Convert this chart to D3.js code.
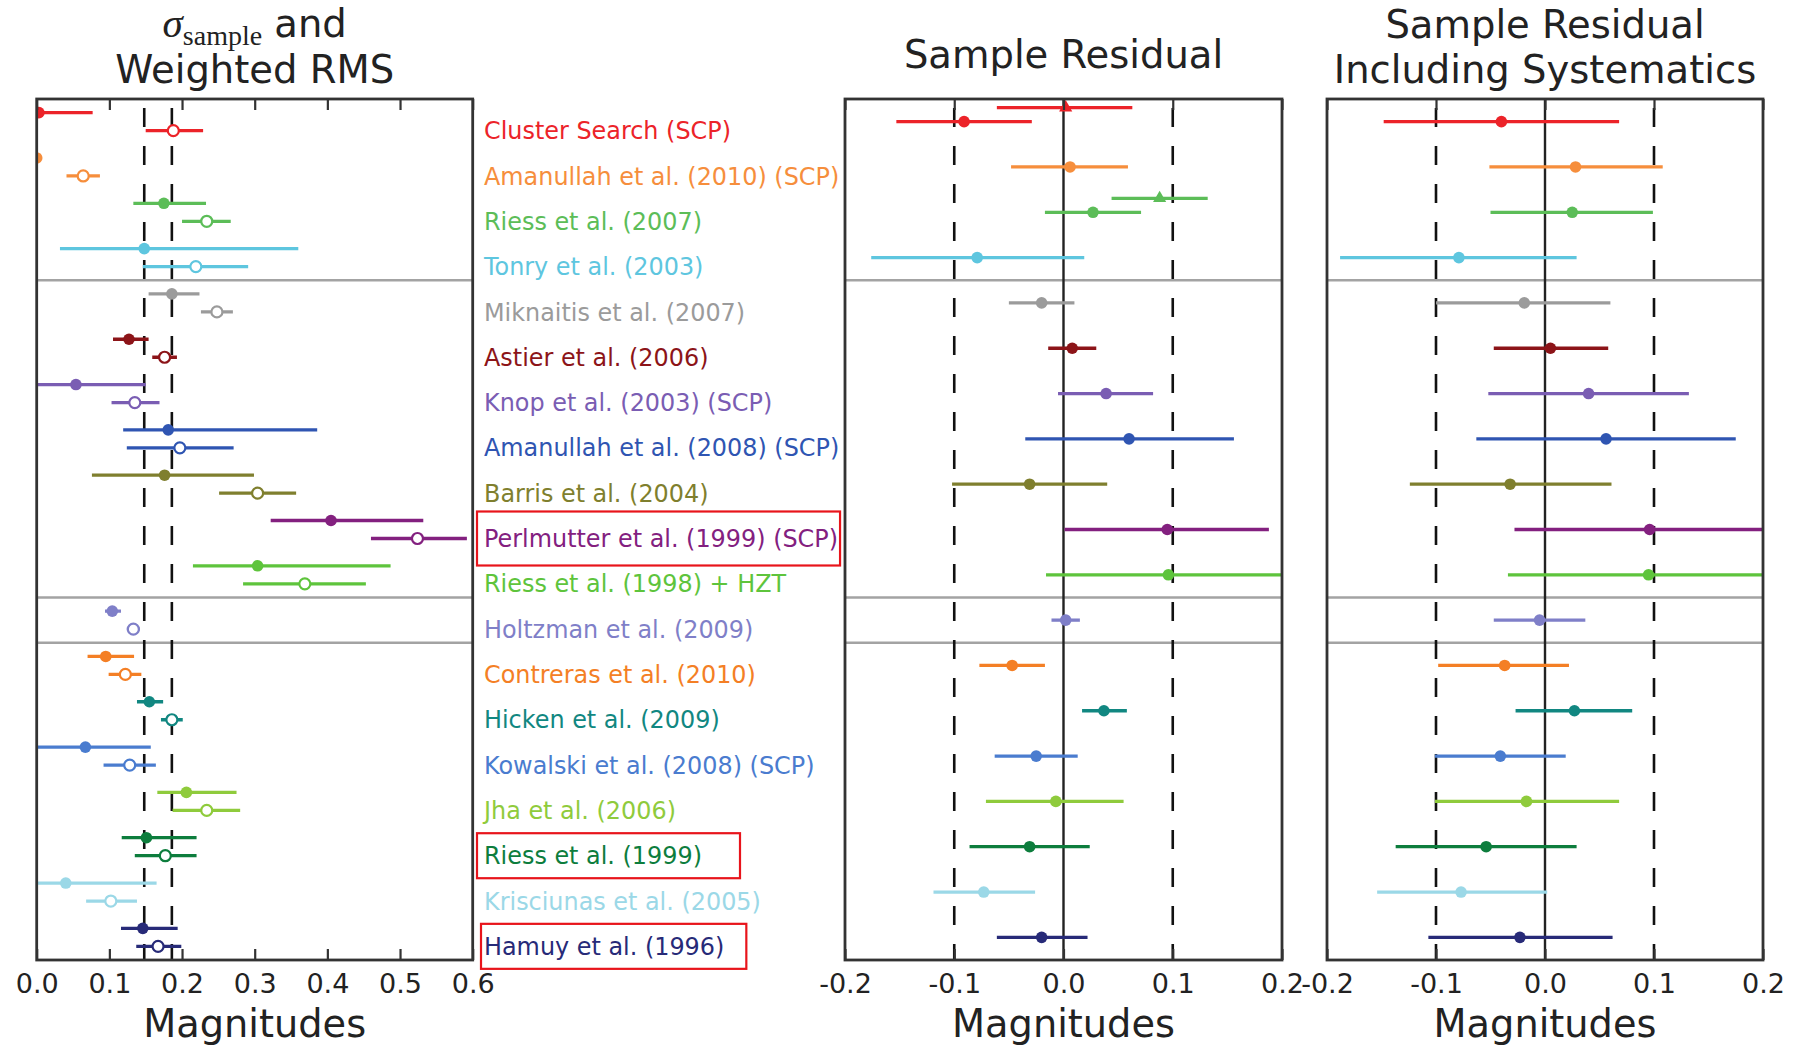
<!DOCTYPE html>
<html><head><meta charset="utf-8">
<script src="https://cdn.jsdelivr.net/npm/d3@7"></script>
<style>body{margin:0;background:#fff} svg{display:block} text{font-family:"DejaVu Sans",sans-serif}</style>
</head><body><svg id="c" width="1805" height="1045"></svg>
<script>
// ---------- data ----------
const labels = ["Cluster Search (SCP)","Amanullah et al. (2010) (SCP)","Riess et al. (2007)","Tonry et al. (2003)",
  "Miknaitis et al. (2007)","Astier et al. (2006)","Knop et al. (2003) (SCP)","Amanullah et al. (2008) (SCP)",
  "Barris et al. (2004)","Perlmutter et al. (1999) (SCP)","Riess et al. (1998) + HZT","Holtzman et al. (2009)",
  "Contreras et al. (2010)","Hicken et al. (2009)","Kowalski et al. (2008) (SCP)","Jha et al. (2006)",
  "Riess et al. (1999)","Krisciunas et al. (2005)","Hamuy et al. (1996)"];
const colors = ["#ec2329","#f68e3c","#5cbd58","#5ec6df","#9b9b9b","#8c1418","#7a5db3","#2f55b2",
  "#7f7f2e","#83207f","#5ec43c","#7f7fc8","#f47f25","#118781","#4a7ccf","#8fcb3c","#0d7d3d","#9bd8e7","#272a78"];
// left panel: sigma_sample (filled) and weighted RMS (open)
const sigmaVal = [0.003,0.0,0.175,0.148,0.186,0.127,0.054,0.181,0.176,0.405,0.304,0.104,0.095,0.155,0.067,0.206,0.151,0.040,0.146];
const sigmaLo  = [0.0,0.0,0.133,0.032,0.154,0.105,0.0,0.119,0.076,0.322,0.215,0.094,0.070,0.138,0.0,0.166,0.117,0.0,0.116];
const sigmaHi  = [0.077,0.0,0.233,0.360,0.224,0.154,0.150,0.386,0.299,0.532,0.487,0.116,0.134,0.174,0.157,0.275,0.220,0.165,0.194];
const rmsVal = [0.188,0.064,0.234,0.219,0.248,0.176,0.135,0.197,0.304,0.524,0.369,0.133,0.122,0.186,0.128,0.234,0.177,0.102,0.167];
const rmsLo  = [0.150,0.041,0.200,0.146,0.226,0.159,0.103,0.124,0.251,0.460,0.284,0.124,0.099,0.171,0.092,0.187,0.135,0.068,0.137];
const rmsHi  = [0.229,0.087,0.267,0.291,0.270,0.193,0.169,0.271,0.357,0.592,0.453,0.142,0.144,0.201,0.164,0.280,0.220,0.138,0.199];
const leftRefLines = [0.148, 0.186];
// middle panel: sample residual
const residVal = [-0.091,0.006,0.027,-0.079,-0.020,0.008,0.039,0.060,-0.031,0.095,0.096,0.002,-0.047,0.037,-0.025,-0.007,-0.031,-0.073,-0.020];
const residLo  = [-0.153,-0.048,-0.017,-0.176,-0.050,-0.014,-0.005,-0.035,-0.102,0.001,-0.016,-0.011,-0.077,0.017,-0.063,-0.071,-0.086,-0.119,-0.061];
const residHi  = [-0.029,0.059,0.071,0.019,0.010,0.030,0.082,0.156,0.040,0.188,0.215,0.015,-0.017,0.058,0.013,0.055,0.024,-0.026,0.022];
// alternative (triangle) points in middle panel
const altRow = [0, 2];
const altVal = [0.002, 0.088];
const altLo  = [-0.061, 0.044];
const altHi  = [0.063, 0.132];
// right panel: residual including systematics
const sysVal = [-0.040,0.028,0.025,-0.079,-0.019,0.005,0.040,0.056,-0.032,0.096,0.095,-0.005,-0.037,0.027,-0.041,-0.017,-0.054,-0.077,-0.023];
const sysLo  = [-0.148,-0.051,-0.050,-0.188,-0.100,-0.047,-0.052,-0.063,-0.124,-0.028,-0.034,-0.047,-0.098,-0.027,-0.101,-0.101,-0.137,-0.154,-0.107];
const sysHi  = [0.068,0.108,0.099,0.029,0.060,0.058,0.132,0.175,0.061,0.230,0.230,0.037,0.022,0.080,0.019,0.068,0.029,0.002,0.062];
const residRefLines = [-0.1, 0.1];
const groupBreaks = [4, 11, 12];
const leftTicks = [0.0,0.1,0.2,0.3,0.4,0.5,0.6];
const residTicks = [-0.2,-0.1,0.0,0.1,0.2];
const xLabel = "Magnitudes";
const highlightRows = [9, 16, 18];

// ---------- layout ----------
const svg = d3.select("#c");
const yTop = 99, yBot = 960;
const rows = d3.range(labels.length);
const y = d3.scaleBand().domain(rows).range([yTop, yBot]).padding(0);
const yc = i => y(i) + y.bandwidth()/2;

const panels = [
  {id:"L", x: d3.scaleLinear().domain([0,0.6]).range([36.7,472.7]), ticks: leftTicks},
  {id:"M", x: d3.scaleLinear().domain([-0.2,0.2]).range([845,1282]), ticks: residTicks},
  {id:"R", x: d3.scaleLinear().domain([-0.2,0.2]).range([1327,1763]), ticks: residTicks}
];
const defs = svg.append("defs");
panels.forEach(p => {
  const [a,b] = p.x.range();
  defs.append("clipPath").attr("id","clip"+p.id).append("rect")
    .attr("x",a).attr("y",yTop).attr("width",b-a).attr("height",yBot-yTop);
  p.g = svg.append("g").attr("clip-path",`url(#clip${p.id})`);
});

function hline(p){
  const [a,b] = p.x.range();
  p.g.selectAll("line.sep").data(groupBreaks).join("line").attr("class","sep")
    .attr("x1",a).attr("x2",b).attr("y1",d=>y(d)).attr("y2",d=>y(d))
    .attr("stroke","#a3a3a3").attr("stroke-width",2.6);
}
function vdash(p, vals){
  p.g.selectAll("line.ref").data(vals).join("line").attr("class","ref")
    .attr("x1",d=>p.x(d)).attr("x2",d=>p.x(d)).attr("y1",yTop).attr("y2",yBot)
    .attr("stroke","#111").attr("stroke-width",2.6).attr("stroke-dasharray","19,19").attr("stroke-dashoffset",29);
}
function zero(p){
  p.g.append("line").attr("x1",p.x(0)).attr("x2",p.x(0)).attr("y1",yTop).attr("y2",yBot)
    .attr("stroke","#222").attr("stroke-width",2.4);
}
function bars(p, idx, val, lo, hi, dy, kind){
  const g = p.g.append("g");
  g.selectAll("line").data(idx).join("line")
    .attr("x1",(d,k)=>p.x(lo[k])).attr("x2",(d,k)=>p.x(hi[k]))
    .attr("y1",d=>yc(d)+dy).attr("y2",d=>yc(d)+dy)
    .attr("stroke",d=>colors[d]).attr("stroke-width",3.3);
  if (kind==="filled"){
    g.selectAll("circle").data(idx).join("circle")
      .attr("cx",(d,k)=>p.x(val[k])).attr("cy",d=>yc(d)+dy).attr("r",5.8)
      .attr("fill",d=>colors[d]);
  } else if (kind==="open"){
    g.selectAll("circle").data(idx).join("circle")
      .attr("cx",(d,k)=>p.x(val[k])).attr("cy",d=>yc(d)+dy).attr("r",5.5)
      .attr("fill","#fff").attr("stroke",d=>colors[d]).attr("stroke-width",2.2);
  } else {
    const tri = d3.symbol(d3.symbolTriangle, 75);
    g.selectAll("path").data(idx).join("path")
      .attr("d",tri).attr("transform",(d,k)=>`translate(${p.x(val[k])},${yc(d)+dy})`)
      .attr("fill",d=>colors[d]);
  }
}

const [PL, PM, PR] = panels;
// left
hline(PL); vdash(PL, leftRefLines);
bars(PL, rows, sigmaVal, sigmaLo, sigmaHi, -9, "filled");
bars(PL, rows, rmsVal, rmsLo, rmsHi, 9, "open");
// middle
hline(PM); vdash(PM, residRefLines); zero(PM);
bars(PM, altRow, altVal, altLo, altHi, -14, "tri");
bars(PM, rows, residVal, residLo, residHi, 0, "filled");
// right
hline(PR); vdash(PR, residRefLines); zero(PR);
bars(PR, rows, sysVal, sysLo, sysHi, 0, "filled");

// frames and axes
panels.forEach(p => {
  const [a,b] = p.x.range();
  svg.append("rect").attr("x",a).attr("y",yTop).attr("width",b-a).attr("height",yBot-yTop)
    .attr("fill","none").attr("stroke","#333").attr("stroke-width",2.8);
  const ax = d3.axisBottom(p.x).tickValues(p.ticks).tickFormat(d3.format(".1f")).tickSize(-11).tickPadding(14);
  const gb = svg.append("g").attr("transform",`translate(0,${yBot})`).call(ax);
  const gt = svg.append("g").attr("transform",`translate(0,${yTop})`)
    .call(d3.axisTop(p.x).tickValues(p.ticks).tickFormat("").tickSize(-11));
  [gb,gt].forEach(g => {
    g.select(".domain").remove();
    g.selectAll(".tick line").attr("stroke","#333").attr("stroke-width",2.2);
  });
  gb.selectAll(".tick text").attr("font-family","DejaVu Sans").attr("font-size",27).attr("fill","#222")
    .text(d => d3.format(".1f")(d).replace("−","-"));
  svg.append("text").attr("x",(a+b)/2).attr("y",1037).attr("text-anchor","middle")
    .attr("font-size",38.3).attr("fill","#222").text(xLabel);
});

// titles
const TS = 38.5;
const t1 = svg.append("text").attr("x",(PL.x.range()[0]+PL.x.range()[1])/2).attr("y",37)
  .attr("text-anchor","middle").attr("font-size",TS).attr("fill","#222");
t1.append("tspan").attr("font-family","Liberation Serif").attr("font-style","italic").attr("font-size",41).text("σ");
t1.append("tspan").attr("font-family","Liberation Serif").attr("font-size",28).attr("dy",8).text("sample");
t1.append("tspan").attr("dy",-8).text(" and");
svg.append("text").attr("x",(PL.x.range()[0]+PL.x.range()[1])/2).attr("y",83)
  .attr("text-anchor","middle").attr("font-size",TS).attr("fill","#222").text("Weighted RMS");
svg.append("text").attr("x",(PM.x.range()[0]+PM.x.range()[1])/2).attr("y",68)
  .attr("text-anchor","middle").attr("font-size",TS).attr("fill","#222").text("Sample Residual");
svg.append("text").attr("x",(PR.x.range()[0]+PR.x.range()[1])/2).attr("y",38)
  .attr("text-anchor","middle").attr("font-size",TS).attr("fill","#222").text("Sample Residual");
svg.append("text").attr("x",(PR.x.range()[0]+PR.x.range()[1])/2).attr("y",83)
  .attr("text-anchor","middle").attr("font-size",TS).attr("fill","#222").text("Including Systematics");

// row labels
const lab = svg.append("g").selectAll("text").data(rows).join("text")
  .attr("x",484).attr("y",d=>yc(d)+9).attr("dy","0.36em")
  .attr("font-size",23.9).attr("fill",d=>colors[d]).text(d=>labels[d]);

// highlight boxes around selected labels
lab.filter(d => highlightRows.includes(d)).each(function(d){
  const bb = this.getBBox();
  const tall = d === 9;
  const padR = d === 9 ? 2 : (d === 16 ? 38 : 22);
  const padL = d === 18 ? 3 : 7;
  const hh = tall ? 27 : 22.5;
  svg.append("rect").attr("x",bb.x-padL).attr("y",yc(d)+9-hh)
    .attr("width",bb.width+padL+padR).attr("height",2*hh)
    .attr("fill","none").attr("stroke","#e8141b").attr("stroke-width",2.2);
});
</script></body></html>
